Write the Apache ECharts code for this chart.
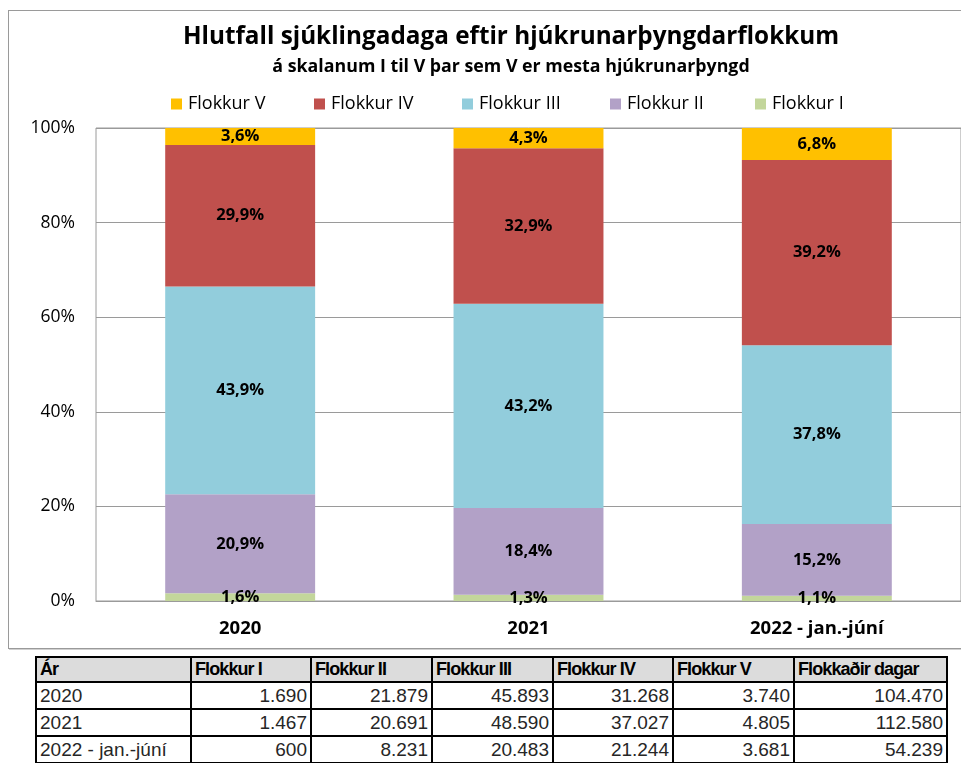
<!DOCTYPE html>
<html>
<head>
<meta charset="utf-8">
<script src="https://cdn.jsdelivr.net/npm/echarts@6/dist/echarts.min.js"></script>
<style>
  html, body { margin: 0; padding: 0; background: #fff; overflow: hidden; }
  body { width: 961px; height: 763px; position: relative; }
  #frame {
    position: absolute; left: 8px; top: 10px; width: 1000px; height: 637px;
    border: 1px solid #9a9a9a; box-shadow: 1px 1px 0 #d0d0d0;
  }
  #chart { position: absolute; left: 0; top: 0; width: 961px; height: 650px; }
  #tbl {
    position: absolute; left: 35px; top: 656px;
    border-collapse: collapse; font-family: "Liberation Sans", Arial, sans-serif;
    table-layout: fixed;
  }
  #tbl td, #tbl th {
    border: 2px solid #000; padding: 0 3px; white-space: nowrap; overflow: hidden;
  }
  #tbl th {
    background: #dcdcdc; text-align: left; font-weight: bold;
    letter-spacing: -0.9px; font-size: 18px; height: 23px; line-height: 23px;
  }
  #tbl td { text-align: right; color: #262626; font-size: 19px; height: 25px; line-height: 25px; }
  #tbl td.first { text-align: left; }
</style>
</head>
<body>
<div id="frame"></div>
<div id="chart"></div>
<table id="tbl"></table>
<script>
// flokkar og ár
const years = ['2020', '2021', '2022 - jan.-júní']
const seriesNames = ['Flokkur I', 'Flokkur II', 'Flokkur III', 'Flokkur IV', 'Flokkur V']
const colors = ['#C3D69B', '#B2A1C7', '#92CDDC', '#C0504D', '#FFC000']

// hlutfall (%) hvers flokks eftir árum
const flokkurI = [1.62, 1.30, 1.11]
const flokkurII = [20.94, 18.38, 15.18]
const flokkurIII = [43.93, 43.16, 37.76]
const flokkurIV = [29.93, 32.89, 39.17]
const flokkurV = [3.58, 4.27, 6.79]

// tafla: fjöldi daga
const tableHeader = ['Ár', 'Flokkur I', 'Flokkur II', 'Flokkur III', 'Flokkur IV', 'Flokkur V', 'Flokkaðir dagar']
const countI = ['1.690', '1.467', '600']
const countII = ['21.879', '20.691', '8.231']
const countIII = ['45.893', '48.590', '20.483']
const countIV = ['31.268', '37.027', '21.244']
const countV = ['3.740', '4.805', '3.681']
const countTotal = ['104.470', '112.580', '54.239']

const yTicks = [0, 20, 40, 60, 80, 100]

const font = '"Open Sans", "Noto Sans", sans-serif'
const pctData = [flokkurI, flokkurII, flokkurIII, flokkurIV, flokkurV]

const chart = echarts.init(document.getElementById('chart'))

const series = seriesNames.map((name, i) => ({
  name: name,
  type: 'bar',
  stack: 'total',
  barWidth: '52%',
  data: pctData[i],
  itemStyle: { color: colors[i] },
  label: {
    show: true,
    position: 'inside',
    color: '#000',
    fontFamily: font,
    fontWeight: 'bold',
    fontSize: 16.5,
    formatter: (p) => p.value.toFixed(1).replace('.', ',') + '%',
  },
}))

// skýringar, ein fyrir hvern flokk (V fyrst)
const legendLeft = [166, 309, 457, 605, 750]
const legends = seriesNames.slice().reverse().map((name, i) => ({
  data: [name],
  left: legendLeft[i],
  top: 90,
  icon: 'rect',
  itemWidth: 11,
  itemHeight: 11,
  itemGap: 0,
  textStyle: { fontSize: 18, color: '#000', fontFamily: font, padding: [0, 0, 0, 1] },
}))

chart.setOption({
  animation: false,
  textStyle: { fontFamily: font },
  graphic: [
    {
      type: 'text', x: 511, y: 37,
      style: {
        text: 'Hlutfall sjúklingadaga eftir hjúkrunarþyngdarflokkum',
        font: 'bold 24.3px ' + font, fill: '#000', align: 'center', verticalAlign: 'middle',
      },
    },
    {
      type: 'text', x: 511, y: 67,
      style: {
        text: 'á skalanum I til V þar sem V er mesta hjúkrunarþyngd',
        font: 'bold 17.8px ' + font, fill: '#000', align: 'center', verticalAlign: 'middle',
      },
    },
  ],
  legend: legends,
  grid: {
    left: 96,
    right: -2,
    top: 128,
    bottom: 49,
    show: true,
    borderColor: '#9a9a9a',
    borderWidth: 1,
  },
  xAxis: {
    type: 'category',
    data: years,
    axisTick: { show: false },
    axisLine: { lineStyle: { color: '#9a9a9a' } },
    axisLabel: { color: '#000', fontWeight: 'bold', fontSize: 18.5, margin: 18, fontFamily: font },
  },
  yAxis: {
    type: 'value',
    min: yTicks[0],
    max: yTicks[yTicks.length - 1],
    interval: 20,
    axisLine: { show: false },
    axisTick: { show: false },
    splitLine: { lineStyle: { color: '#9a9a9a' } },
    axisLabel: { color: '#000', fontSize: 17.5, margin: 21, formatter: '{value}%', fontFamily: font },
  },
  series: series,
})

// tafla neðst
const colWidths = [155, 120, 121, 121, 120, 121, 153]
const tbl = document.getElementById('tbl')
let html = '<colgroup>' + colWidths.map((w) => '<col style="width:' + w + 'px">').join('') + '</colgroup>'
html += '<tr>' + tableHeader.map((h) => '<th>' + h + '</th>').join('') + '</tr>'
years.forEach((y, r) => {
  const cells = [countI[r], countII[r], countIII[r], countIV[r], countV[r], countTotal[r]]
  html += '<tr><td class="first">' + y + '</td>' + cells.map((c) => '<td>' + c + '</td>').join('') + '</tr>'
})
tbl.innerHTML = html
</script>
</body>
</html>
